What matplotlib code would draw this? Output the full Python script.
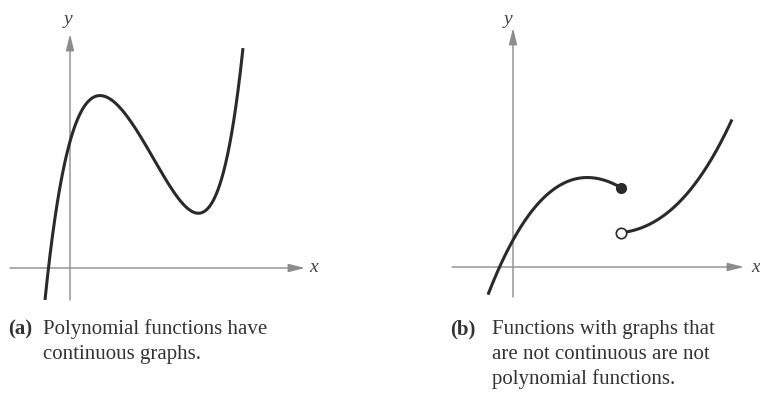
import numpy as np
import matplotlib
matplotlib.use("Agg")
import matplotlib.pyplot as plt

# Traced points of the polynomial in panel (a)
poly_x = [-1.25, -1.075, -0.65, -0.35, 0.0, 0.5, 1.5, 3.0, 4.5, 6.25, 7.65, 8.15, 8.4, 8.65]
poly_y = [-1.6, 0.0, 3.05, 5.05, 6.4, 7.55, 8.55, 7.55, 4.8, 2.75, 4.9, 6.9, 8.9, 11.05]

# Traced points of the two pieces of the discontinuous function in panel (b)
left_x = [-1.25, -0.75, 0.0, 1.2, 2.5, 3.7, 4.85, 5.4]
left_y = [-1.5, 0.0, 1.35, 3.0, 4.2, 4.5, 4.25, 3.95]
right_x = [5.4, 6.85, 8.5, 9.85, 10.95]
right_y = [1.7, 2.2, 3.35, 5.35, 7.35]

caption_a = ["Polynomial functions have", "continuous graphs."]
caption_b = ["Functions with graphs that", "are not continuous are not", "polynomial functions."]

W, H = 760, 395
CURVE = "#2a2a2a"
AXIS = "#8c8c8c"
SERIF = "Liberation Serif"

fig = plt.figure(figsize=(W / 100, H / 100), dpi=100)
fig.patch.set_facecolor("white")


def make_axes(x0, x1, y_top, y_bot, ox, oy, unit=20.0):
    """Axes covering a pixel box, with data origin at pixel (ox, oy)."""
    ax = fig.add_axes([x0 / W, 1 - y_bot / H, (x1 - x0) / W, (y_bot - y_top) / H])
    ax.set_xlim((x0 - ox) / unit, (x1 - ox) / unit)
    ax.set_ylim((oy - y_bot) / unit, (oy - y_top) / unit)
    ax.axis("off")
    return ax


def draw_axes(ax, xa, xb, ya, yb, xlab_pos, ylab_pos):
    kw = dict(arrowstyle="-|>,head_length=1.0,head_width=0.25", color=AXIS, lw=1.0,
              shrinkA=0, shrinkB=0, mutation_scale=10)
    ax.annotate("", xy=(xb, 0), xytext=(xa, 0), arrowprops=kw, zorder=1)
    ax.annotate("", xy=(0, yb), xytext=(0, ya), arrowprops=kw, zorder=1)
    ax.text(*xlab_pos, "x", family=SERIF, style="italic", fontsize=14, color="#444444",
            ha="center", va="center", clip_on=False)
    ax.text(*ylab_pos, "y", family=SERIF, style="italic", fontsize=14, color="#444444",
            ha="center", va="center", clip_on=False)


# Panel (a): continuous polynomial
ax_a = make_axes(0, 380, 0, 310, 70, 268)
draw_axes(ax_a, -3.0, 11.75, -1.6, 11.7, (12.2, 0.0), (-0.1, 12.45))
coef = np.polyfit(poly_x, poly_y, 5)
xs = np.linspace(min(poly_x), max(poly_x), 400)
ax_a.plot(xs, np.polyval(coef, xs), color=CURVE, lw=2.2, solid_capstyle="butt", zorder=3)

# Panel (b): function with a jump
ax_b = make_axes(380, 760, 0, 310, 513, 267)
draw_axes(ax_b, -3.05, 11.55, -1.5, 11.95, (12.15, 0.0), (-0.25, 12.4))
for px, py in ((left_x, left_y), (right_x, right_y)):
    c = np.polyfit(px, py, 3)
    xs = np.linspace(min(px), max(px), 300)
    ax_b.plot(xs, np.polyval(c, xs), color=CURVE, lw=2.2, solid_capstyle="butt", zorder=3)
ax_b.plot(left_x[-1], left_y[-1], "o", ms=7, color=CURVE, zorder=4)
ax_b.plot(right_x[0], right_y[0], "o", ms=7.5, mfc="white", mec=CURVE, mew=1.2, zorder=4)


# Captions
def caption(x_tag, x_text, tag, lines):
    base = 334
    step = 25
    fig.text(x_tag / W, 1 - base / H, tag, family=SERIF, fontsize=15, fontweight="bold",
             color="#333333", va="baseline", ha="left")
    for i, line in enumerate(lines):
        fig.text(x_text / W, 1 - (base + i * step) / H, line, family=SERIF, fontsize=15,
                 color="#333333", va="baseline", ha="left")


caption(8, 43, "(a)", caption_a)
caption(450, 492, "(b)", caption_b)

fig.savefig("out.png", dpi=100, facecolor="white")
